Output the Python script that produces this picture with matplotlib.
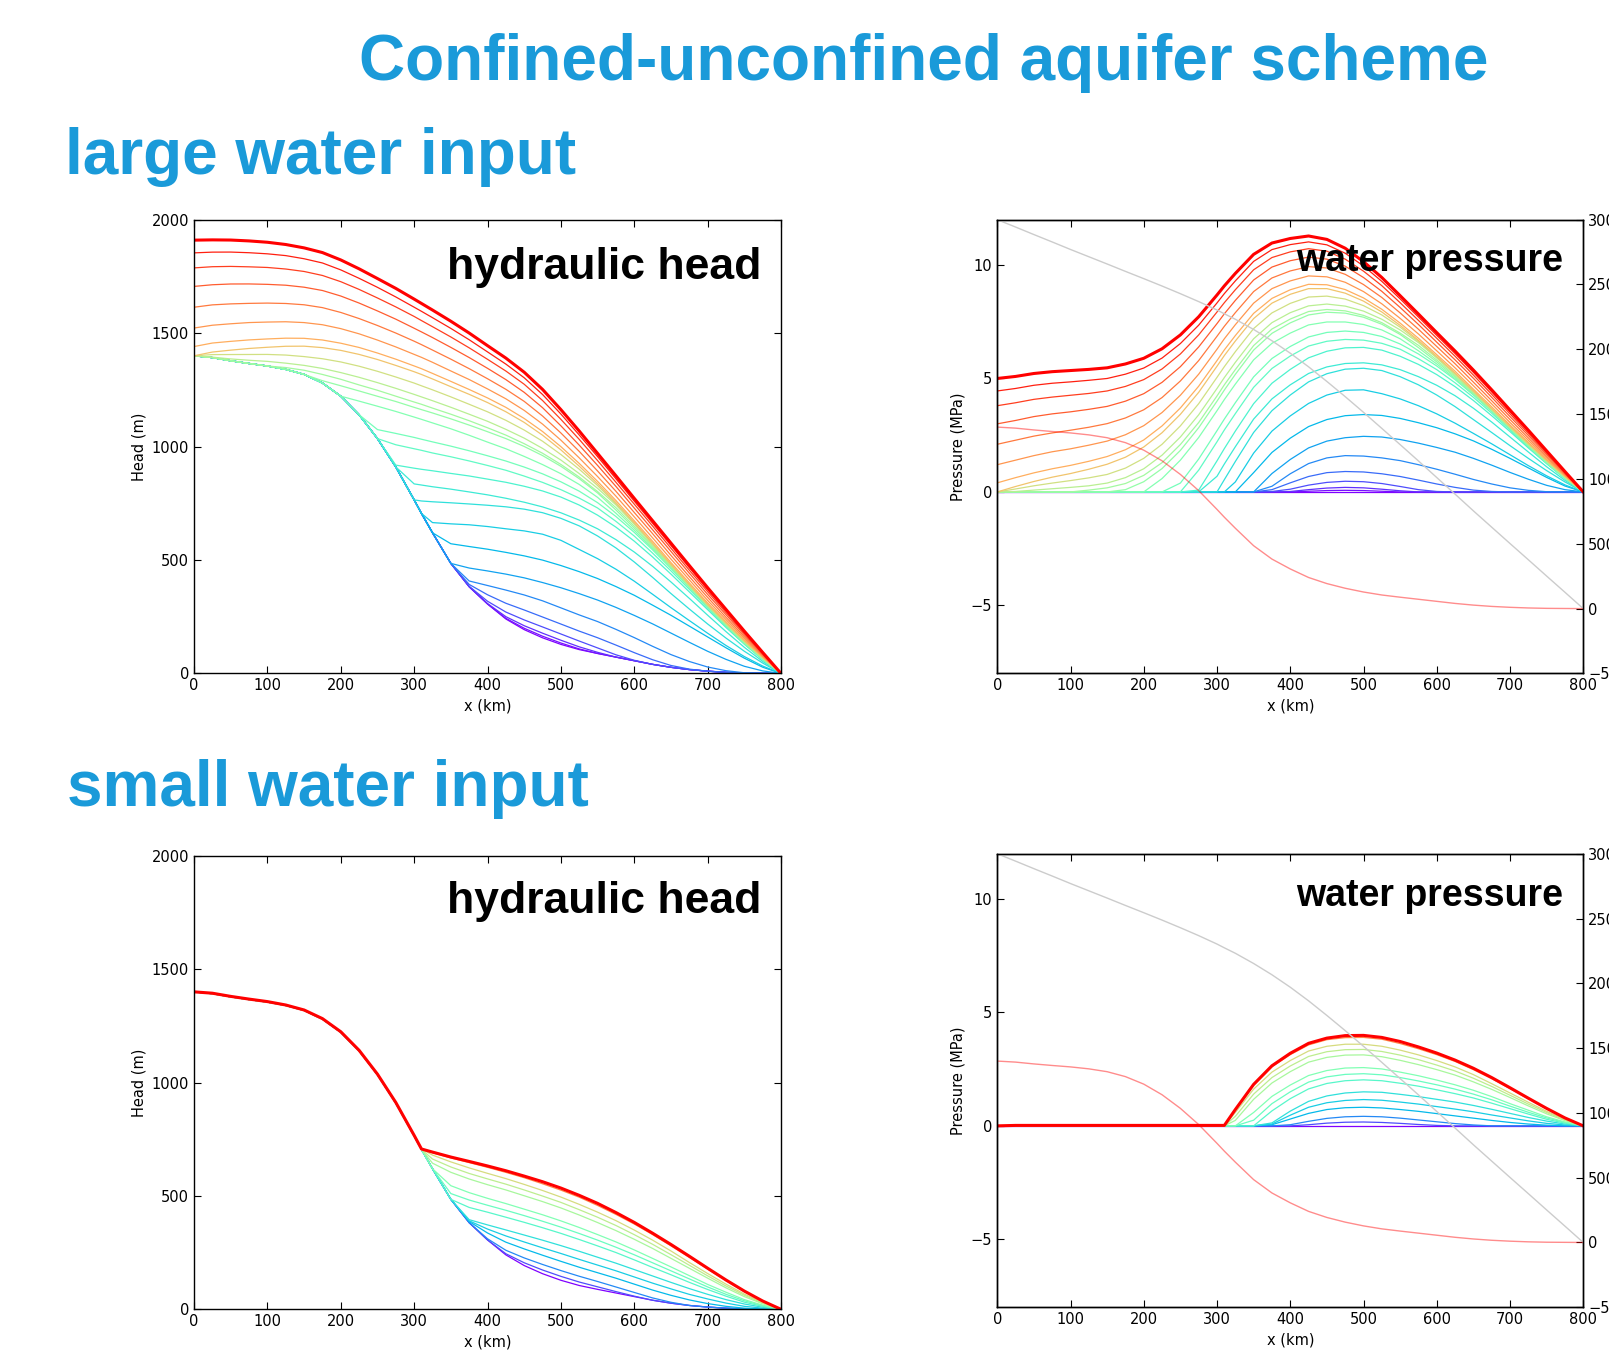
import numpy as np
import matplotlib
matplotlib.use('Agg')
import matplotlib.pyplot as plt

'''DATA'''
# distance along the profile (km)
x_km = [0, 25, 50, 75, 100, 125, 150, 175, 200, 225, 250, 275, 300, 310, 325, 350, 375,
        400, 425, 450, 475, 500, 525, 550, 575, 600, 625, 650, 675, 700, 725, 750, 775, 800]

# bed elevation (m) - red line, and ice surface (m) - grey line
bed_m = [1400, 1392, 1378, 1366, 1355, 1340, 1318, 1280, 1222, 1140, 1035, 910, 765, 705, 620,
         485, 382, 306, 240, 193, 157, 128, 105, 88, 72, 56, 40, 27, 17, 10, 5, 2, 1, 0]
surface_m = [3000, 2943, 2885, 2828, 2770, 2714, 2658, 2601, 2545, 2488, 2429, 2368, 2303, 2274,
             2232, 2153, 2066, 1970, 1865, 1752, 1635, 1514, 1390, 1265, 1139, 1011, 883, 754,
             628, 502, 377, 251, 126, 0]

# water pressure profiles (MPa), large water input, in time order
large_pressure = [
    [0] * 34,
    [0] * 18 + [0.03, 0.06, 0.07, 0.06, 0.03] + [0] * 11,
    [0] * 17 + [0.02, 0.10, 0.17, 0.20, 0.18, 0.12, 0.05] + [0] * 10,
    [0] * 16 + [0.02, 0.12, 0.30, 0.42, 0.47, 0.45, 0.37, 0.24, 0.10, 0.02] + [0] * 8,
    [0] * 16 + [0.10, 0.40, 0.68, 0.85, 0.90, 0.88, 0.80, 0.68, 0.52, 0.35, 0.20, 0.08, 0.02] + [0] * 5,
    [0] * 16 + [0.25, 0.80, 1.25, 1.50, 1.60, 1.58, 1.50, 1.38, 1.20, 1.00, 0.78, 0.55, 0.35, 0.18,
                0.07, 0.01] + [0] * 2,
    [0] * 16 + [0.81, 1.43, 1.94, 2.24, 2.39, 2.45, 2.42, 2.31, 2.15, 1.96, 1.75, 1.48, 1.18, 0.86,
                0.56, 0.29, 0.10, 0],
    [0] * 15 + [0.85, 1.74, 2.37, 2.88, 3.19, 3.36, 3.41, 3.37, 3.24, 3.05, 2.83, 2.56, 2.25, 1.88,
                1.48, 1.06, 0.64, 0.26, 0],
    [0] * 14 + [0.44, 1.71, 2.68, 3.35, 3.90, 4.27, 4.48, 4.50, 4.33, 4.10, 3.80, 3.44, 3.03, 2.58,
                2.12, 1.64, 1.16, 0.71, 0.31, 0],
    [0] * 13 + [0.54, 1.34, 2.62, 3.58, 4.27, 4.85, 5.21, 5.41, 5.45, 5.35, 5.08, 4.72, 4.27, 3.76,
                3.19, 2.62, 2.04, 1.48, 0.94, 0.44, 0],
    [0] * 12 + [0.69, 1.23, 1.99, 3.21, 4.10, 4.72, 5.22, 5.51, 5.66, 5.69, 5.60, 5.39, 5.08, 4.70,
                4.24, 3.69, 3.08, 2.42, 1.76, 1.11, 0.51, 0],
    [0] * 11 + [0.08, 1.37, 1.91, 2.68, 3.89, 4.79, 5.40, 5.91, 6.20, 6.35, 6.37, 6.25, 5.98, 5.62,
                5.17, 4.64, 4.03, 3.36, 2.66, 1.94, 1.25, 0.59, 0],
    [0] * 11 + [0.96, 2.21, 2.73, 3.45, 4.61, 5.44, 5.99, 6.43, 6.64, 6.72, 6.69, 6.55, 6.29, 5.87,
                5.39, 4.81, 4.17, 3.47, 2.73, 1.97, 1.25, 0.58, 0],
    [0] * 10 + [0.39, 1.45, 2.70, 3.21, 3.93, 5.07, 5.88, 6.41, 6.83, 7.03, 7.09, 7.03, 6.85, 6.52,
                6.08, 5.55, 4.95, 4.27, 3.54, 2.78, 2.01, 1.28, 0.60, 0],
    [0] * 9 + [0.59, 1.40, 2.40, 3.58, 4.07, 4.75, 5.82, 6.55, 7.00, 7.36, 7.49, 7.49, 7.38, 7.14,
               6.75, 6.22, 5.64, 5.00, 4.31, 3.57, 2.80, 2.03, 1.29, 0.61, 0],
    [0] * 7 + [0.10, 0.45, 1.03, 1.83, 2.83, 4.00, 4.49, 5.18, 6.25, 6.99, 7.45, 7.80, 7.92, 7.88,
               7.70, 7.39, 6.94, 6.36, 5.73, 5.06, 4.35, 3.60, 2.83, 2.06, 1.32, 0.63, 0],
    [0] * 5 + [0.08, 0.18, 0.37, 0.73, 1.29, 2.09, 3.06, 4.23, 4.72, 5.39, 6.45, 7.18, 7.62, 7.95,
               8.04, 7.98, 7.78, 7.46, 7.00, 6.46, 5.81, 5.11, 4.38, 3.62, 2.84, 2.08, 1.34, 0.65, 0],
    [0, 0.02, 0.08, 0.14, 0.20, 0.27, 0.39, 0.63, 1.02, 1.62, 2.42, 3.40, 4.56, 5.04, 5.71, 6.75, 7.46,
     7.90, 8.20, 8.28, 8.19, 7.97, 7.61, 7.14, 6.58, 5.90, 5.17, 4.40, 3.63, 2.84, 2.10, 1.36, 0.66, 0],
    [0, 0.13, 0.27, 0.39, 0.50, 0.62, 0.77, 1.05, 1.48, 2.10, 2.91, 3.89, 5.05, 5.52, 6.18, 7.20, 7.89,
     8.31, 8.59, 8.63, 8.50, 8.21, 7.80, 7.26, 6.63, 5.94, 5.20, 4.43, 3.65, 2.86, 2.12, 1.38, 0.67, 0],
    [0, 0.24, 0.46, 0.65, 0.81, 1.00, 1.22, 1.53, 1.98, 2.61, 3.42, 4.39, 5.54, 6.01, 6.65, 7.64, 8.32,
     8.71, 8.96, 8.96, 8.76, 8.41, 7.93, 7.34, 6.68, 5.97, 5.24, 4.46, 3.68, 2.89, 2.14, 1.40, 0.69, 0],
    [0.40, 0.63, 0.84, 1.02, 1.17, 1.35, 1.56, 1.86, 2.29, 2.91, 3.70, 4.66, 5.79, 6.26, 6.89, 7.87, 8.53,
     8.91, 9.15, 9.13, 8.92, 8.55, 8.05, 7.44, 6.77, 6.05, 5.32, 4.53, 3.75, 2.95, 2.19, 1.43, 0.71, 0],
    [1.20, 1.40, 1.60, 1.77, 1.90, 2.06, 2.24, 2.52, 2.92, 3.50, 4.26, 5.19, 6.29, 6.75, 7.37, 8.32, 8.96,
     9.30, 9.52, 9.48, 9.24, 8.83, 8.29, 7.65, 6.96, 6.22, 5.47, 4.68, 3.88, 3.06, 2.28, 1.50, 0.74, 0],
    [2.10, 2.28, 2.46, 2.60, 2.72, 2.85, 3.01, 3.26, 3.62, 4.16, 4.89, 5.79, 6.86, 7.30, 7.90, 8.83, 9.43,
     9.74, 9.93, 9.87, 9.59, 9.14, 8.57, 7.89, 7.17, 6.41, 5.65, 4.84, 4.02, 3.19, 2.38, 1.57, 0.78, 0],
    [3.00, 3.15, 3.32, 3.44, 3.53, 3.64, 3.77, 4.00, 4.33, 4.83, 5.52, 6.39, 7.42, 7.85, 8.44, 9.34, 9.91,
     10.19, 10.35, 10.26, 9.95, 9.45, 8.84, 8.13, 7.38, 6.60, 5.82, 5.01, 4.17, 3.32, 2.49, 1.65, 0.82, 0],
    [3.80, 3.93, 4.08, 4.18, 4.26, 4.34, 4.45, 4.65, 4.95, 5.42, 6.08, 6.92, 7.93, 8.34, 8.91, 9.79, 10.33,
     10.58, 10.72, 10.61, 10.26, 9.73, 9.09, 8.34, 7.56, 6.77, 5.98, 5.15, 4.30, 3.44, 2.58, 1.71, 0.85, 0],
    [4.45, 4.56, 4.70, 4.79, 4.85, 4.92, 5.00, 5.19, 5.46, 5.90, 6.54, 7.35, 8.33, 8.74, 9.30, 10.16, 10.68,
     10.90, 11.02, 10.89, 10.52, 9.96, 9.28, 8.51, 7.71, 6.90, 6.10, 5.27, 4.41, 3.53, 2.66, 1.76, 0.88, 0],
    [5.00, 5.09, 5.22, 5.30, 5.35, 5.40, 5.47, 5.64, 5.89, 6.31, 6.92, 7.72, 8.68, 9.08, 9.63, 10.47, 10.97,
     11.17, 11.28, 11.13, 10.74, 10.15, 9.45, 8.65, 7.84, 7.02, 6.21, 5.37, 4.50, 3.61, 2.72, 1.81, 0.90, 0],
]
large_colors = [0.0, 0.02, 0.06, 0.10, 0.14, 0.18, 0.22, 0.26, 0.30, 0.34, 0.37, 0.40, 0.44,
                0.48, 0.51, 0.54, 0.57, 0.61, 0.66, 0.72, 0.76, 0.80, 0.84, 0.88, 0.92, 0.96, 1.0]

# water pressure profiles (MPa), small water input, in time order
small_pressure = [
    [0] * 34,
    [0] * 18 + [0.05, 0.12, 0.16, 0.17, 0.15, 0.11, 0.06, 0.02] + [0] * 8,
    [0] * 17 + [0.05, 0.20, 0.33, 0.40, 0.42, 0.40, 0.34, 0.26, 0.18, 0.10, 0.04] + [0] * 6,
    [0] * 16 + [0.05, 0.30, 0.55, 0.72, 0.80, 0.82, 0.79, 0.72, 0.64, 0.54, 0.44, 0.34, 0.24, 0.15,
                0.08, 0.03] + [0] * 2,
    [0] * 16 + [0.08, 0.47, 0.82, 1.02, 1.12, 1.16, 1.13, 1.05, 0.96, 0.85, 0.74, 0.62, 0.48, 0.35,
                0.22, 0.11, 0.04, 0],
    [0] * 16 + [0.13, 0.65, 1.08, 1.32, 1.45, 1.50, 1.48, 1.39, 1.29, 1.17, 1.05, 0.90, 0.73, 0.55,
                0.37, 0.21, 0.08, 0],
    [0] * 16 + [0.66, 1.20, 1.63, 1.87, 1.99, 2.03, 1.99, 1.88, 1.75, 1.59, 1.42, 1.23, 1.00, 0.76,
                0.52, 0.29, 0.12, 0],
    [0] * 15 + [0.25, 0.98, 1.50, 1.93, 2.16, 2.27, 2.30, 2.25, 2.13, 1.98, 1.81, 1.62, 1.40, 1.15,
                0.87, 0.60, 0.35, 0.15, 0],
    [0] * 15 + [0.59, 1.30, 1.80, 2.22, 2.44, 2.55, 2.57, 2.51, 2.37, 2.21, 2.02, 1.81, 1.57, 1.29,
                0.98, 0.69, 0.40, 0.17, 0],
    [0] * 14 + [0.24, 1.17, 1.89, 2.39, 2.81, 3.02, 3.12, 3.13, 3.05, 2.89, 2.70, 2.48, 2.24, 1.94,
                1.61, 1.25, 0.88, 0.53, 0.23, 0],
    [0] * 14 + [0.42, 1.40, 2.13, 2.64, 3.06, 3.27, 3.36, 3.37, 3.28, 3.12, 2.92, 2.68, 2.42, 2.10,
                1.74, 1.35, 0.96, 0.59, 0.26, 0],
    [0] * 13 + [0.02, 0.59, 1.62, 2.37, 2.88, 3.30, 3.51, 3.60, 3.60, 3.51, 3.34, 3.13, 2.88, 2.60,
                2.26, 1.86, 1.45, 1.04, 0.64, 0.29, 0],
    [0] * 13 + [0.02, 0.69, 1.79, 2.60, 3.14, 3.57, 3.80, 3.89, 3.90, 3.82, 3.63, 3.40, 3.14, 2.84,
                2.48, 2.08, 1.64, 1.19, 0.75, 0.34, 0],
    [0] + [0.02] * 13 + [0.72, 1.83, 2.65, 3.20, 3.64, 3.87, 3.98, 3.99, 3.90, 3.72, 3.48, 3.21,
                         2.90, 2.54, 2.13, 1.68, 1.22, 0.77, 0.35, 0],
]
small_colors = [0.0, 0.10, 0.18, 0.26, 0.30, 0.34, 0.42, 0.46, 0.50, 0.58, 0.62, 0.67, 0.82, 1.0]

rho_g = 1000 * 9.81 / 1e6   # MPa per m of water

title_blue = '#1a9ad9'
title_font = 'Liberation Sans'

'''PLOT'''
plt.rcParams['font.size'] = 10.5
plt.rcParams['xtick.direction'] = 'in'
plt.rcParams['ytick.direction'] = 'in'
plt.rcParams['xtick.major.size'] = 5
plt.rcParams['ytick.major.size'] = 5
plt.rcParams['axes.linewidth'] = 1.0

fig = plt.figure(figsize=(16.09, 13.66), dpi=100)
cmap = plt.get_cmap('rainbow')
x = np.array(x_km)
bed = np.array(bed_m)


def head_panel(rect, profiles, colors):
    ax = fig.add_axes(rect)
    for p, c in zip(profiles, colors):
        head = bed + np.array(p) / rho_g
        ax.plot(x, head, color=cmap(c), lw=2.2 if c == 1.0 else 0.9)
    ax.set_xlim(0, 800)
    ax.set_ylim(0, 2000)
    ax.set_xticks(range(0, 801, 100))
    ax.set_yticks(range(0, 2001, 500))
    ax.tick_params(top=True, right=True)
    ax.set_xlabel('x (km)')
    ax.set_ylabel('Head (m)')
    return ax


def pressure_panel(rect, profiles, colors):
    ax = fig.add_axes(rect)
    for p, c in zip(profiles, colors):
        ax.plot(x, p, color=cmap(c), lw=2.2 if c == 1.0 else 0.9)
    ax.set_xlim(0, 800)
    ax.set_ylim(-8, 12)
    ax.set_xticks(range(0, 801, 100))
    ax.set_yticks([-5, 0, 5, 10])
    ax.tick_params(top=True, right=False)
    ax.set_xlabel('x (km)')
    ax.set_ylabel('Pressure (MPa)')
    ax2 = ax.twinx()
    ax2.plot(x, surface_m, color='0.8', lw=1.0)
    ax2.plot(x, bed_m, color='red', alpha=0.45, lw=1.0)
    ax2.set_ylim(-500, 3000)
    ax2.set_yticks(range(-500, 3001, 500))
    ax2.set_xlim(0, 800)
    return ax


ax1 = head_panel([0.1206, 0.5070, 0.3648, 0.3322], large_pressure, large_colors)
ax1.text(0.967, 0.869, 'hydraulic head', transform=ax1.transAxes, ha='right', va='baseline',
         fontsize=32, fontweight='bold', family=title_font)
ax2 = pressure_panel([0.6198, 0.5070, 0.3642, 0.3322], large_pressure, large_colors)
ax2.text(0.965, 0.887, 'water pressure', transform=ax2.transAxes, ha='right', va='baseline',
         fontsize=27, fontweight='bold', family=title_font, zorder=10)

ax3 = head_panel([0.1206, 0.0415, 0.3648, 0.3320], small_pressure, small_colors)
ax3.text(0.967, 0.874, 'hydraulic head', transform=ax3.transAxes, ha='right', va='baseline',
         fontsize=32, fontweight='bold', family=title_font)
ax4 = pressure_panel([0.6198, 0.0430, 0.3642, 0.3320], small_pressure, small_colors)
ax4.text(0.965, 0.885, 'water pressure', transform=ax4.transAxes, ha='right', va='baseline',
         fontsize=27, fontweight='bold', family=title_font, zorder=10)

fig.text(0.574, 0.9414, 'Confined-unconfined aquifer scheme', ha='center', va='baseline',
         fontsize=46, fontweight='bold', color=title_blue, family=title_font)
fig.text(0.0402, 0.8723, 'large water input', ha='left', va='baseline',
         fontsize=46, fontweight='bold', color=title_blue, family=title_font)
fig.text(0.0415, 0.4103, 'small water input', ha='left', va='baseline',
         fontsize=46, fontweight='bold', color=title_blue, family=title_font)

plt.savefig('out.png', dpi=100)
